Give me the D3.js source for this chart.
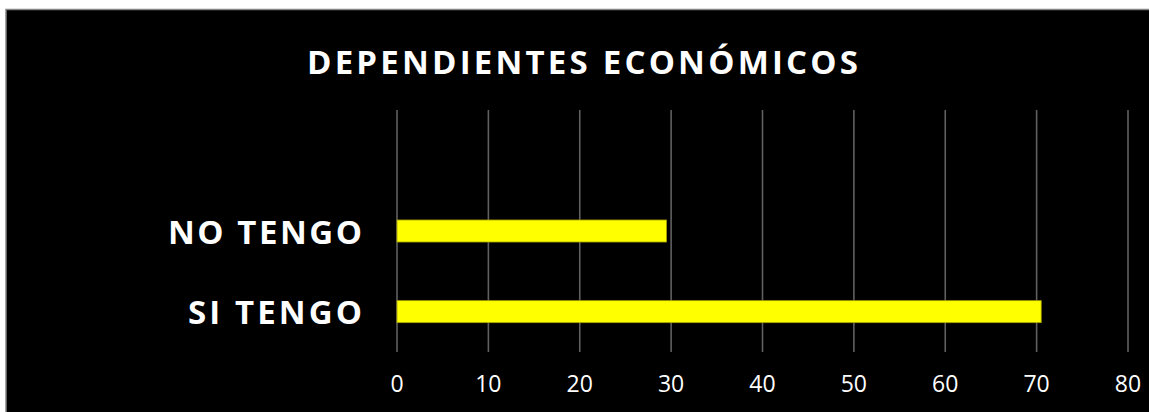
<!DOCTYPE html>
<html><head><meta charset="utf-8">
<script src="https://cdn.jsdelivr.net/npm/d3@7"></script>
<style>html,body{margin:0;padding:0;background:#fff;}svg{display:block;}</style>
</head><body>
<script>
const title = "DEPENDIENTES ECONÓMICOS";
const categories = ["", "NO TENGO", "SI TENGO"];
const barCategories = ["NO TENGO", "SI TENGO"];
const values = [29.5, 70.5];
const tickValues = [0, 10, 20, 30, 40, 50, 60, 70, 80];

const W = 1149, H = 412;
const svg = d3.select("body").append("svg").attr("width", W).attr("height", H);
svg.append("rect").attr("width", W).attr("height", H).attr("fill", "#fff");
svg.append("rect").attr("x", 6).attr("y", 9.5).attr("width", W).attr("height", H)
  .attr("fill", "#000").attr("stroke", "#858585").attr("stroke-width", 1.5);

const x = d3.scaleLinear().domain([0, 80]).range([397, 1128]);
const y = d3.scaleBand().domain(categories).range([110, 352]).paddingInner(0.727).paddingOuter(0.3635);

// gridlines
svg.append("g").selectAll("line").data(tickValues).join("line")
  .attr("x1", d => x(d)).attr("x2", d => x(d)).attr("y1", 110).attr("y2", 352)
  .attr("stroke", "#606060").attr("stroke-width", 1.6);

// bars
svg.append("g").selectAll("rect").data(barCategories.map((c, i) => ({c, v: values[i]}))).join("rect")
  .attr("x", x(0)).attr("y", d => y(d.c)).attr("width", d => x(d.v) - x(0)).attr("height", y.bandwidth())
  .attr("fill", "#ffff00").attr("stroke", "#a8a000").attr("stroke-width", 0.8);

// tick labels
svg.append("g").selectAll("text").data(tickValues).join("text")
  .attr("x", d => x(d)).attr("y", 391.5).attr("text-anchor", "middle")
  .attr("font-family", "Open Sans").attr("font-size", 23).attr("fill", "#fff").text(d => d);

// category labels
const labelWidths = {"NO TENGO": 194, "SI TENGO": 174};
svg.append("g").selectAll("text").data(barCategories).join("text")
  .attr("x", d => 362 - labelWidths[d]).attr("y", d => y(d) + y.bandwidth() / 2 + 12.5)
  .attr("font-family", "Open Sans").attr("font-weight", "bold").attr("font-size", 33)
  .attr("textLength", d => labelWidths[d]).attr("lengthAdjust", "spacing")
  .attr("fill", "#fff").text(d => d);

// title
svg.append("text").attr("x", 307).attr("y", 74)
  .attr("font-family", "Open Sans").attr("font-weight", "bold").attr("font-size", 33)
  .attr("textLength", 551).attr("lengthAdjust", "spacing")
  .attr("fill", "#fff").text(title);
</script>
</body></html>
